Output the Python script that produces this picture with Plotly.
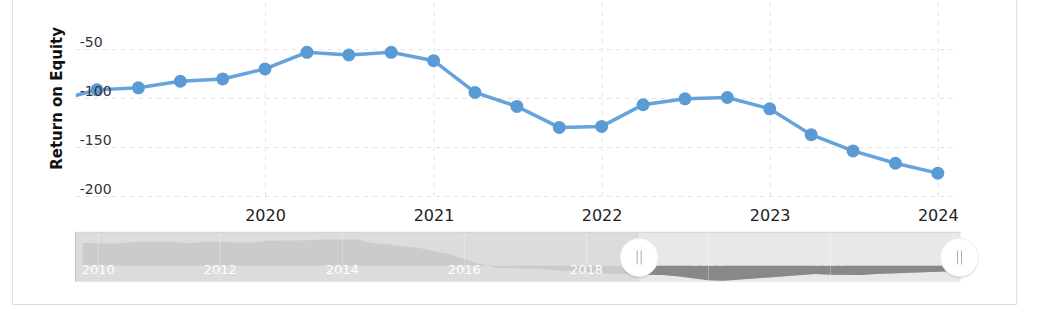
import plotly.graph_objects as go
import pandas as pd

W, H = 1058, 326

# ---- main series: Return on Equity, quarter ends ----
roe_dates = ["2018-09-30", "2018-12-31", "2019-03-31", "2019-06-30", "2019-09-30",
             "2019-12-31", "2020-03-31", "2020-06-30", "2020-09-30", "2020-12-31",
             "2021-03-31", "2021-06-30", "2021-09-30", "2021-12-31", "2022-03-31",
             "2022-06-30", "2022-09-30", "2022-12-31", "2023-03-31", "2023-06-30",
             "2023-09-30", "2023-12-31"]
roe_values = [-103.0, -91.7, -89.6, -82.9, -80.5,
              -70.3, -53.4, -56.1, -53.4, -61.9,
              -94.4, -108.6, -130.0, -129.0, -106.9,
              -100.8, -99.5, -111.0, -137.4, -154.0,
              -166.6, -176.7]

y_ticks = [-200, -150, -100, -50, 0]
y_ticktext = ["-200", "-150", "-100", "-50", ""]
x_tick_years = ["2020", "2021", "2022", "2023", "2024"]

# ---- navigator series (overview), quarter ends 2009-09-30 .. 2023-12-31 ----
nav_dates = pd.date_range("2009-09-30", "2023-12-31", freq="QE").strftime("%Y-%m-%d").tolist()
nav_values = [22.7, 22.4, 22.0, 23.2, 24.2, 24.2, 24.0, 22.4, 23.7, 23.7,
              23.2, 23.0, 25.0, 25.0, 25.0, 25.4, 26.2, 26.5, 26.2, 22.4,
              21.5, 19.2, 17.9, 14.7, 11.7, 6.7, 2.0, -1.8, -2.8, -3.1,
              -3.0, -4.8, -5.1, -6.3, -6.8, -8.3, -8.6, -8.8, -9.3, -10.6,
              -12.3, -14.6, -15.0, -13.8, -12.5, -11.3, -10.0, -8.8, -8.3, -9.0,
              -9.3, -9.3, -8.3, -7.8, -7.3, -6.8, -6.1, -5.6]
nav_tick_years = ["2010", "2012", "2014", "2016", "2018", "2020", "2022", "2024"]

main_range = ["2018-11-15", "2024-02-07"]
main_yrange = [-205, 0]
nav_range = ["2009-08-18", "2024-02-18"]

FONT = "DejaVu Sans, Verdana, sans-serif"
BLUE = "#5b9bd5"
GRIDC = "#e3e3e3"


def px(x):
    return x / W


def py(y):
    return 1 - y / H


# pixel layout
MAIN_L, MAIN_R, MAIN_T, MAIN_B = 76, 958, 0, 200.9
NAV_L, NAV_R, NAV_T, NAV_B = 75.7, 963.3, 232.3, 281.7
SEL_L = 641

fig = go.Figure()

fig.add_trace(go.Scatter(
    x=roe_dates, y=roe_values, mode="lines+markers",
    line=dict(color="#65a3dc", width=3.5),
    marker=dict(color=BLUE, size=13),
    xaxis="x", yaxis="y", showlegend=False, hoverinfo="skip"))

# navigator: full (outside selection) in light gray
fig.add_trace(go.Scatter(
    x=nav_dates, y=nav_values, mode="lines", fill="tozeroy",
    line=dict(color="rgba(0,0,0,0)", width=0), fillcolor="#cbcbcb",
    xaxis="x2", yaxis="y2", showlegend=False, hoverinfo="skip"))
# navigator: selected part in dark gray (clipped by its own axis domain)
fig.add_trace(go.Scatter(
    x=nav_dates, y=nav_values, mode="lines", fill="tozeroy",
    line=dict(color="rgba(0,0,0,0)", width=0), fillcolor="#888888",
    xaxis="x3", yaxis="y3", showlegend=False, hoverinfo="skip"))

nav_yr = [-16, 33.4]
sel_start = "2018-11-13"

fig.update_layout(
    width=W, height=H,
    margin=dict(l=0, r=0, t=0, b=0),
    paper_bgcolor="white", plot_bgcolor="rgba(0,0,0,0)",
    font=dict(family=FONT, color="#333333"),
    xaxis=dict(domain=[px(MAIN_L), px(MAIN_R)], type="date", range=main_range,
               tickvals=[f"{y}-01-01" for y in x_tick_years], ticktext=x_tick_years,
               tickfont=dict(size=16, color="#222222"), ticklabelstandoff=3,
               showgrid=False, zeroline=False, showline=False, ticks="", anchor="y"),
    yaxis=dict(domain=[py(MAIN_B), py(MAIN_T)], range=main_yrange,
               tickvals=y_ticks, ticktext=y_ticktext,
               ticklabelposition="inside top", ticklabelstandoff=1, ticklabelshift=3,
               tickfont=dict(size=14, color="#333333"),
               showgrid=True, gridcolor=GRIDC, griddash="4px,5px", gridwidth=1,
               zeroline=False, showline=False, ticks="", anchor="x"),
    xaxis2=dict(domain=[px(NAV_L), px(NAV_R)], type="date", range=nav_range,
                tickvals=[f"{y}-01-01" for y in nav_tick_years], ticktext=nav_tick_years,
                ticklabelposition="inside", ticklabelstandoff=2,
                tickfont=dict(size=13, color="white"),
                showgrid=False, zeroline=False, showline=False, ticks="", anchor="y2"),
    yaxis2=dict(domain=[py(NAV_B), py(NAV_T)], range=nav_yr, visible=False, anchor="x2"),
    xaxis3=dict(domain=[px(SEL_L), px(NAV_R)], type="date", range=[sel_start, nav_range[1]],
                visible=False, anchor="y3"),
    yaxis3=dict(domain=[py(NAV_B), py(NAV_T)], range=nav_yr, visible=False, anchor="x3"),
)

shapes = []
# vertical year gridlines of the main chart, between the -200 and 0 gridlines
for yv in x_tick_years:
    shapes.append(dict(type="line", xref="x", yref="y",
                       x0=f"{yv}-01-01", x1=f"{yv}-01-01", y0=y_ticks[0], y1=y_ticks[-1],
                       line=dict(color=GRIDC, width=1, dash="4px,5px"), layer="below"))
# outer frame
shapes.append(dict(type="rect", xref="paper", yref="paper",
                   x0=px(12.5), x1=px(1019.5), y0=py(304.5), y1=py(-20),
                   line=dict(color="#dddddd", width=1), fillcolor="rgba(0,0,0,0)", layer="below"))
# navigator backgrounds
shapes.append(dict(type="rect", xref="paper", yref="paper",
                   x0=px(NAV_L), x1=px(SEL_L), y0=py(NAV_B), y1=py(NAV_T),
                   line=dict(width=0), fillcolor="#dcdcdc", layer="below"))
shapes.append(dict(type="rect", xref="paper", yref="paper",
                   x0=px(SEL_L), x1=px(NAV_R), y0=py(NAV_B), y1=py(NAV_T),
                   line=dict(width=0), fillcolor="#e8e8e8", layer="below"))
# navigator gridlines (faint, above fill)
for yv in nav_tick_years:
    shapes.append(dict(type="line", xref="x2", yref="paper",
                       x0=f"{yv}-01-01", x1=f"{yv}-01-01", y0=py(NAV_B), y1=py(NAV_T),
                       line=dict(color="rgba(255,255,255,0.3)", width=1), layer="above"))
# navigator outline
shapes.append(dict(type="line", xref="paper", yref="paper",
                   x0=px(NAV_L), x1=px(NAV_R), y0=py(NAV_T), y1=py(NAV_T),
                   line=dict(color="#d2d2d2", width=1), layer="above"))
shapes.append(dict(type="line", xref="paper", yref="paper",
                   x0=px(NAV_L), x1=px(NAV_L), y0=py(NAV_B), y1=py(NAV_T),
                   line=dict(color="#c4c4c4", width=1), layer="above"))

# handles
HY, HR = 257.5, 19
for hx in [SEL_L, NAV_R - 1]:
    shapes.append(dict(type="circle", xref="paper", yref="paper",
                       x0=px(hx - HR), x1=px(hx + HR), y0=py(HY + HR + 2), y1=py(HY - HR + 2),
                       line=dict(width=0), fillcolor="rgba(0,0,0,0.10)", layer="above"))
    shapes.append(dict(type="circle", xref="paper", yref="paper",
                       x0=px(hx - HR), x1=px(hx + HR), y0=py(HY + HR), y1=py(HY - HR),
                       line=dict(color="#eeeeee", width=1), fillcolor="white", layer="above"))
    for dx in (-2, 2):
        shapes.append(dict(type="line", xref="paper", yref="paper",
                           x0=px(hx + dx), x1=px(hx + dx), y0=py(HY + 7), y1=py(HY - 7),
                           line=dict(color="#aaaaaa", width=1), layer="above"))

fig.update_layout(shapes=shapes)

fig.add_annotation(text="<b>Return on Equity</b>", xref="paper", yref="paper",
                   x=px(57), y=py(98), textangle=-90, showarrow=False,
                   font=dict(size=15, color="#111111", family=FONT),
                   xanchor="center", yanchor="middle")

fig.write_html("out.html")
